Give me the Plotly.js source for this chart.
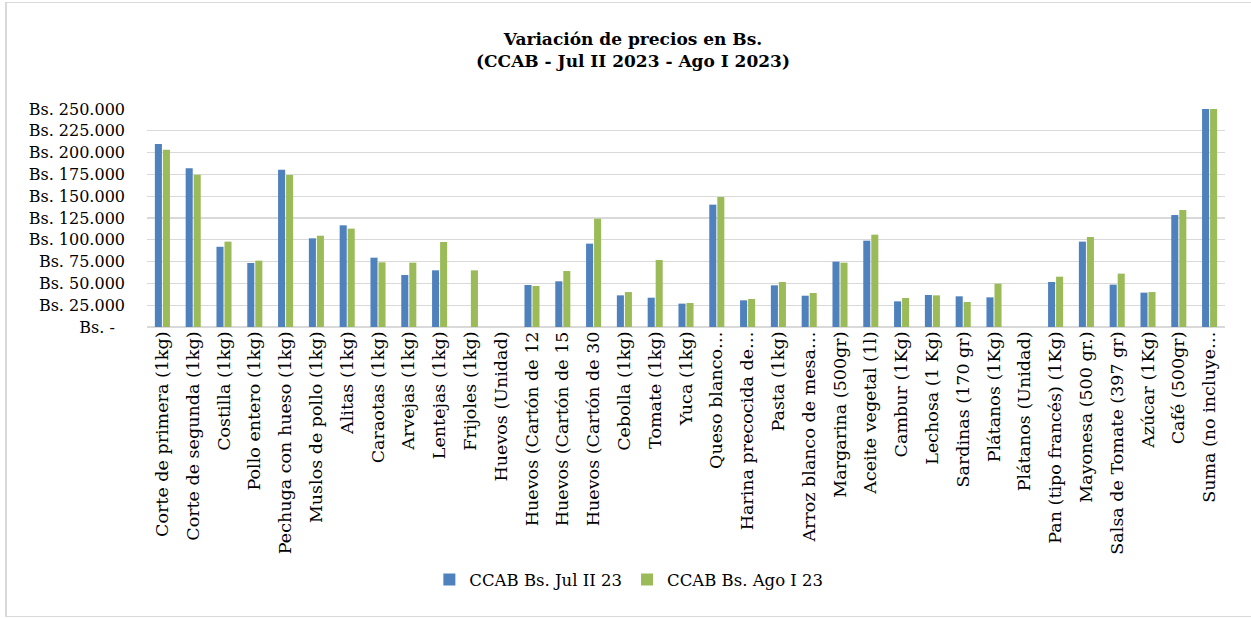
<!DOCTYPE html>
<html>
<head>
<meta charset="utf-8">
<script src="https://cdn.plot.ly/plotly-3.0.1.min.js"></script>
<style>
  html, body { margin: 0; padding: 0; background: #fff; }
  #wrap { position: relative; width: 1251px; height: 619px; overflow: hidden; }
  #chart { position: absolute; left: 0; top: 0; width: 1251px; height: 619px; }
  #frame { position: absolute; left: 5px; top: 2px; width: 1300px; height: 615px;
           border-left: 2px solid #D9D9D9; border-top: 1px solid #D9D9D9; border-bottom: 1px solid #D9D9D9;
           pointer-events: none; box-sizing: border-box; }
</style>
</head>
<body>
<div id="wrap">
  <div id="chart"></div>
  <div id="frame"></div>
</div>
<script>
const categories = [
  "Corte de primera (1kg)", "Corte de segunda (1kg)", "Costilla (1kg)", "Pollo entero (1kg)",
  "Pechuga con hueso (1kg)", "Muslos de pollo (1kg)", "Alitas (1kg)", "Caraotas (1kg)",
  "Arvejas (1kg)", "Lentejas (1kg)", "Frijoles (1kg)", "Huevos (Unidad)",
  "Huevos (Cartón de 12", "Huevos (Cartón de 15", "Huevos (Cartón de 30", "Cebolla (1kg)",
  "Tomate (1kg)", "Yuca (1kg)", "Queso blanco…", "Harina precocida de…",
  "Pasta (1kg)", "Arroz blanco de mesa…", "Margarina (500gr)", "Aceite vegetal (1l)",
  "Cambur (1Kg)", "Lechosa (1 Kg)", "Sardinas (170 gr)", "Plátanos (1Kg)",
  "Plátanos (Unidad)", "Pan (tipo francés) (1Kg)", "Mayonesa (500 gr.)", "Salsa de Tomate (397 gr)",
  "Azúcar (1Kg)", "Café (500gr)", "Suma (no incluye…"
];

const julII23 = [
  210000, 182000, 92000, 73400,
  180400, 101700, 116600, 79500,
  59600, 65000, null, null,
  48200, 52400, 95600, 36300,
  33600, 26800, 140300, 30600,
  47800, 35900, 74900, 99000,
  29400, 36700, 35200, 34000,
  null, 51600, 97900, 48600,
  39400, 128400, 2383000
];

const agoI23 = [
  203400, 174700, 97900, 76100,
  174300, 104700, 112800, 74200,
  73800, 97500, 65000, null,
  47000, 64200, 124200, 40100,
  76800, 27500, 149100, 32100,
  51600, 39000, 73800, 105900,
  33300, 36300, 28700, 49700,
  null, 57700, 103200, 61200,
  40100, 134200, 2590000
];

const seriesNames = ["CCAB Bs. Jul II 23", "CCAB Bs. Ago I 23"];
const tickValues = [0, 25000, 50000, 75000, 100000, 125000, 150000, 175000, 200000, 225000, 250000];
const tickLabels = ["Bs. -\u00a0\u00a0", "Bs. 25.000", "Bs. 50.000", "Bs. 75.000", "Bs. 100.000",
  "Bs. 125.000", "Bs. 150.000", "Bs. 175.000", "Bs. 200.000", "Bs. 225.000", "Bs. 250.000"];

const FONT = "'DejaVu Serif', 'Liberation Serif', serif";

const traces = [
  { type: "bar", name: seriesNames[0], x: categories, y: julII23, marker: { color: "#4F81BD" } },
  { type: "bar", name: seriesNames[1], x: categories, y: agoI23, marker: { color: "#9BBB59" } }
];

const layout = {
  width: 1251, height: 619,
  paper_bgcolor: "#ffffff", plot_bgcolor: "#ffffff",
  font: { family: FONT, size: 16, color: "#000000" },
  title: {
    text: "<b>Variación de precios en Bs.</b><br><b>(CCAB - Jul II 2023 - Ago I 2023)</b>",
    font: { family: FONT, size: 17, color: "#000000" },
    x: 0.506, xref: "container", xanchor: "center",
    y: 0.928, yref: "container", yanchor: "top"
  },
  margin: { l: 147, r: 26, t: 109, b: 292, pad: 0 },
  barmode: "group",
  bargap: 0.48,
  bargroupgap: 0.12,
  showlegend: true,
  legend: {
    orientation: "h", x: 0.447, xanchor: "center", y: -1.16, yanchor: "middle",
    font: { family: FONT, size: 16.5, color: "#000000" }
  },
  xaxis: {
    type: "category",
    tickangle: -90,
    tickfont: { family: FONT, size: 17.5, color: "#000000" },
    showgrid: false, showline: false, ticks: "", automargin: false
  },
  yaxis: {
    range: [0, 250000],
    tickvals: tickValues, ticktext: tickLabels,
    tickfont: { family: FONT, size: 16, color: "#000000" },
    showgrid: true, gridcolor: "#D9D9D9", gridwidth: 1.3,
    zeroline: true, zerolinecolor: "#D9D9D9", zerolinewidth: 1.3,
    showline: false, ticks: "", ticklabelstandoff: 21, automargin: false, fixedrange: true
  }
};

Plotly.newPlot("chart", traces, layout, { displayModeBar: false, staticPlot: true });
</script>
</body>
</html>
